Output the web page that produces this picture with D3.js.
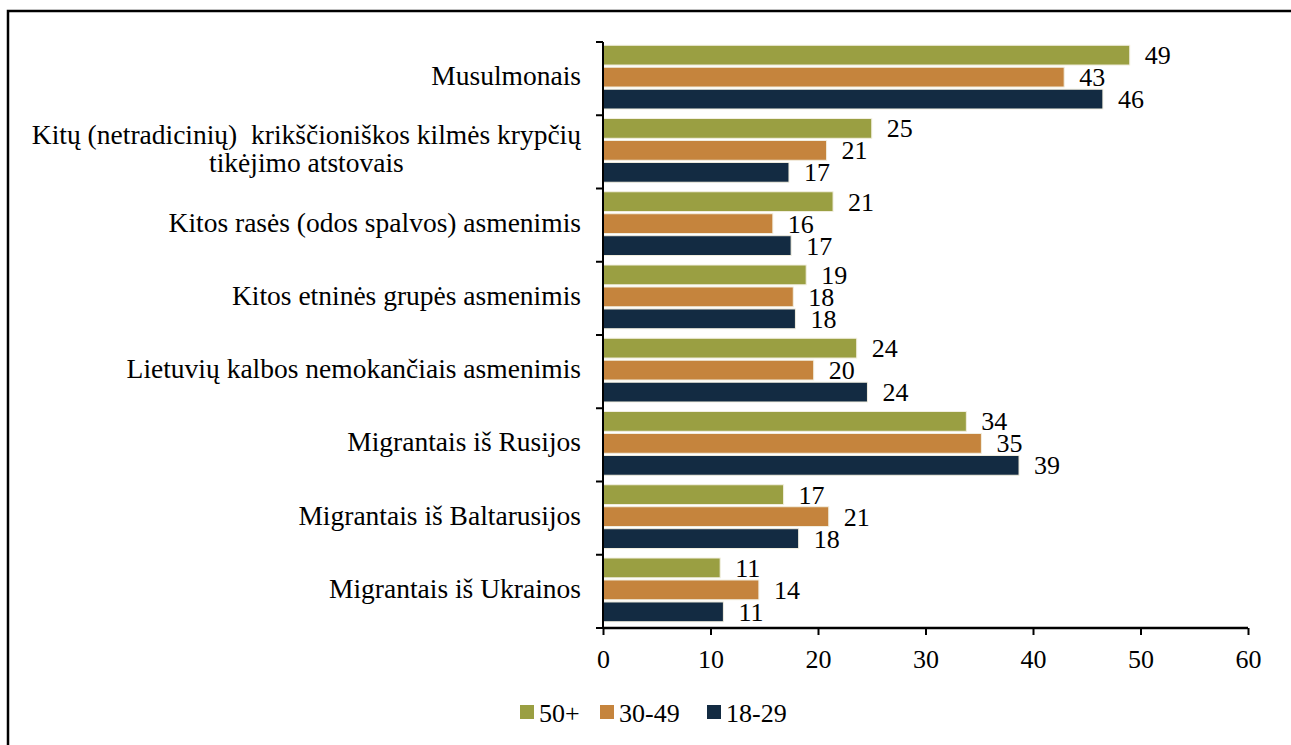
<!DOCTYPE html>
<html>
<head>
<meta charset="utf-8">
<script src="https://cdn.jsdelivr.net/npm/d3@7"></script>
<style>
  body { margin: 0; background: #fff; }
</style>
</head>
<body>
<script>
const categories = [
    ["Musulmonais"],
    ["Kitų (netradicinių)  krikščioniškos kilmės krypčių", "tikėjimo atstovais"],
    ["Kitos rasės (odos spalvos) asmenimis"],
    ["Kitos etninės grupės asmenimis"],
    ["Lietuvių kalbos nemokančiais asmenimis"],
    ["Migrantais iš Rusijos"],
    ["Migrantais iš Baltarusijos"],
    ["Migrantais iš Ukrainos"]
];
const seriesNames = ["50+", "30-49", "18-29"];
const seriesColors = ["#9a9f42", "#c5843d", "#132b42"];

// bar lengths, labels are the rounded values
const values50 = [49.0, 25.0, 21.4, 18.9, 23.6, 33.8, 16.8, 10.9];
const values30 = [42.9, 20.8, 15.8, 17.7, 19.6, 35.2, 21.0, 14.5];
const values18 = [46.5, 17.3, 17.5, 17.9, 24.6, 38.7, 18.2, 11.2];
const labels50 = [49, 25, 21, 19, 24, 34, 17, 11];
const labels30 = [43, 21, 16, 18, 20, 35, 21, 14];
const labels18 = [46, 17, 17, 18, 24, 39, 18, 11];
const xTicks = [0, 10, 20, 30, 40, 50, 60];

const FONT = "'Liberation Serif'";
const FS = "26px";

function renderChart() {

    let w = 1291, h = 745;

    let svg = d3.select("body").append("svg")
        .attr("width", w)
        .attr("height", h);

    // outer frame
    svg.append("rect")
        .attr("x", 8).attr("y", 11)
        .attr("width", 1400).attr("height", 900)
        .attr("fill", "none")
        .attr("stroke", "#000")
        .attr("stroke-width", 2.5);

    const left = 603, right = 1248, top = 42, bottom = 628;

    let x = d3.scaleLinear().domain([0, 60]).range([left, right]);
    let y = d3.scaleBand().domain(d3.range(categories.length)).range([top, bottom]).paddingInner(0.13).paddingOuter(0.065);
    let ys = d3.scaleBand().domain(d3.range(3)).range([0, y.bandwidth()]).paddingInner(0.1);

    let series = [values50, values30, values18];
    let labels = [labels50, labels30, labels18];

    let data = [];
    categories.forEach(function (c, i) {
        series.forEach(function (s, j) {
            data.push({cat: i, s: j, v: s[i], label: labels[j][i]});
        });
    });

    svg.append("g").selectAll("rect")
        .data(data)
        .enter()
        .append("rect")
        .attr("x", x(0))
        .attr("y", function (d) { return y(d.cat) + ys(d.s) - 1.5; })
        .attr("width", function (d) { return x(d.v) - x(0); })
        .attr("height", ys.bandwidth())
        .attr("fill", function (d) { return seriesColors[d.s]; })
        .attr("stroke", "#f2efe0")
        .attr("stroke-width", 1);

    svg.append("g").selectAll("text")
        .data(data)
        .enter()
        .append("text")
        .attr("x", function (d) { return x(d.v) + 15; })
        .attr("y", function (d) { return y(d.cat) + ys(d.s) + ys.bandwidth() / 2 + 7.5; })
        .style("font-family", FONT)
        .style("font-size", FS)
        .text(function (d) { return d.label; });

    // y axis: line with ticks at band boundaries
    let bounds = d3.range(categories.length + 1).map(function (i) { return top + i * (bottom - top) / categories.length; });
    let yAxis = svg.append("g");
    yAxis.append("line")
        .attr("x1", left).attr("x2", left)
        .attr("y1", top).attr("y2", bottom)
        .attr("stroke", "#000").attr("stroke-width", 2);
    yAxis.selectAll(".tick")
        .data(bounds)
        .enter()
        .append("line")
        .attr("x1", left - 7).attr("x2", left)
        .attr("y1", function (d) { return d; }).attr("y2", function (d) { return d; })
        .attr("stroke", "#000").attr("stroke-width", 2);

    // category labels
    let catG = svg.append("g");
    categories.forEach(function (lines, i) {
        let cy = y(i) + y.bandwidth() / 2 - 1.5;
        let t = catG.append("text")
            .style("font-family", FONT)
            .style("font-size", "27.5px")
            .style("white-space", "pre")
            .attr("text-anchor", "middle");
        lines.forEach(function (ln) {
            t.append("tspan").text(ln);
        });
        let widths = [];
        t.selectAll("tspan").each(function () { widths.push(this.getComputedTextLength()); });
        let maxW = d3.max(widths);
        let cx = 581 - maxW / 2;
        let lh = 28;
        let y0 = cy + 8 - (lines.length - 1) * lh / 2;
        t.selectAll("tspan")
            .attr("x", cx)
            .attr("y", function (d, k) { return y0 + k * lh; });
    });

    // x axis
    let xAxis = svg.append("g")
        .attr("transform", "translate(0," + bottom + ")")
        .call(d3.axisBottom(x).tickValues(xTicks).tickSize(7).tickPadding(10).tickFormat(d3.format("d")));
    xAxis.select(".domain").attr("stroke-width", 2.5).attr("d", "M" + left + ",0H" + right);
    xAxis.selectAll(".tick line").attr("stroke-width", 2);
    xAxis.selectAll(".tick text")
        .attr("dy", "0.9em")
        .style("font-size", FS)
        .style("font-family", FONT);

    // legend
    let legX = [520, 600, 707];
    let leg = svg.append("g");
    seriesNames.forEach(function (n, i) {
        leg.append("rect")
            .attr("x", legX[i]).attr("y", 705)
            .attr("width", 14).attr("height", 14)
            .attr("fill", seriesColors[i]);
        leg.append("text")
            .attr("x", legX[i] + 19).attr("y", 722)
            .style("font-family", FONT)
            .style("font-size", FS)
            .text(n);
    });
}

renderChart();
</script>
</body>
</html>
